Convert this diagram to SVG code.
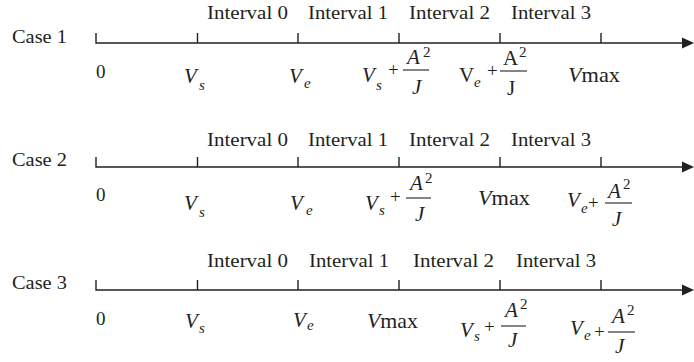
<svg xmlns="http://www.w3.org/2000/svg" width="694" height="362" viewBox="0 0 694 362">
<defs>
<style>
text{font-family:'Liberation Serif','DejaVu Serif',serif;fill:#231f20}
.t{font-size:19px}
.m{font-size:21px}
.i{font-style:italic}
.sub{font-size:15px;font-style:italic}
.sup{font-size:15px}
.ax{stroke:#231f20;stroke-width:1.4;fill:none}
.bar{stroke:#231f20;stroke-width:1.1}
.head{fill:#231f20}
</style>
</defs>
<rect width="694" height="362" fill="#ffffff"/>

<g id="connectors">
  <g id="axis1">
    <path class="ax" d="M96,33V43H686M197.5,33V43M298,33V43M399,33V43M500,33V43M601,33V43"/>
    <polygon class="head" points="682,37.5 694,43 682,48.5"/>
  </g>
  <g id="axis2">
    <path class="ax" d="M96,157V167H686M197.5,157V167M298,157V167M399,157V167M500,157V167M601,157V167"/>
    <polygon class="head" points="682,161.5 694,167 682,172.5"/>
  </g>
  <g id="axis3">
    <path class="ax" d="M96,280V290H686M197.5,280V290M298,280V290M399,280V290M500,280V290M601,280V290"/>
    <polygon class="head" points="682,284.5 694,290 682,295.5"/>
  </g>
</g>

<g id="case1">
  <text class="t" x="12" y="43" textLength="55" lengthAdjust="spacingAndGlyphs">Case 1</text>
  <text class="t" x="207" y="19" textLength="81" lengthAdjust="spacingAndGlyphs">Interval 0</text>
  <text class="t" x="308" y="19" textLength="80" lengthAdjust="spacingAndGlyphs">Interval 1</text>
  <text class="t" x="409" y="19" textLength="81" lengthAdjust="spacingAndGlyphs">Interval 2</text>
  <text class="t" x="511" y="19" textLength="80" lengthAdjust="spacingAndGlyphs">Interval 3</text>
  <text class="t" x="96" y="78">0</text>
  <text class="m i" x="184" y="83">V</text><text class="sub" x="199" y="90">s</text>
  <text class="m i" x="289" y="83">V</text><text class="sub" x="304" y="88">e</text>
  <g id="c1f1">
    <text class="m i" x="362" y="82">V</text><text class="sub" x="376" y="90">s</text>
    <text class="t" x="388" y="76">+</text>
    <line class="bar" x1="403" y1="70" x2="429" y2="70"/>
    <text class="m i" x="407" y="64">A</text><text class="sup" x="423" y="57">2</text>
    <text class="m i" x="412" y="94">J</text>
  </g>
  <g id="c1f2">
    <text class="m" x="459" y="82">V</text><text class="sub" x="474" y="87">e</text>
    <text class="t" x="487" y="77">+</text>
    <line class="bar" x1="500" y1="71" x2="527" y2="71"/>
    <text class="m" x="503" y="65">A</text><text class="sup" x="519" y="57">2</text>
    <text class="m" x="507" y="95">J</text>
  </g>
  <text class="m" x="568" y="82" textLength="52" lengthAdjust="spacingAndGlyphs"><tspan class="i">V</tspan>max</text>
</g>

<g id="case2">
  <text class="t" x="12" y="166" textLength="55" lengthAdjust="spacingAndGlyphs">Case 2</text>
  <text class="t" x="207" y="146" textLength="81" lengthAdjust="spacingAndGlyphs">Interval 0</text>
  <text class="t" x="308" y="146" textLength="80" lengthAdjust="spacingAndGlyphs">Interval 1</text>
  <text class="t" x="409" y="146" textLength="81" lengthAdjust="spacingAndGlyphs">Interval 2</text>
  <text class="t" x="511" y="146" textLength="80" lengthAdjust="spacingAndGlyphs">Interval 3</text>
  <text class="t" x="96" y="201">0</text>
  <text class="m i" x="184" y="210">V</text><text class="sub" x="199" y="217">s</text>
  <text class="m i" x="290" y="210">V</text><text class="sub" x="306" y="215">e</text>
  <g id="c2f1">
    <text class="m i" x="365" y="210">V</text><text class="sub" x="379" y="215">s</text>
    <text class="t" x="390" y="203">+</text>
    <line class="bar" x1="406" y1="198" x2="431" y2="198"/>
    <text class="m i" x="410" y="190">A</text><text class="sup" x="425" y="183">2</text>
    <text class="m i" x="415" y="221">J</text>
  </g>
  <text class="m" x="478" y="205" textLength="52" lengthAdjust="spacingAndGlyphs"><tspan class="i">V</tspan>max</text>
  <g id="c2f2">
    <text class="m i" x="567" y="207">V</text><text class="sub" x="581" y="213">e</text>
    <text class="t" x="588" y="209">+</text>
    <line class="bar" x1="605" y1="203" x2="632" y2="203"/>
    <text class="m i" x="608" y="198">A</text><text class="sup" x="623" y="189">2</text>
    <text class="m i" x="612" y="226">J</text>
  </g>
</g>

<g id="case3">
  <text class="t" x="12" y="289" textLength="55" lengthAdjust="spacingAndGlyphs">Case 3</text>
  <text class="t" x="207" y="267" textLength="81" lengthAdjust="spacingAndGlyphs">Interval 0</text>
  <text class="t" x="309" y="267" textLength="80" lengthAdjust="spacingAndGlyphs">Interval 1</text>
  <text class="t" x="413" y="267" textLength="81" lengthAdjust="spacingAndGlyphs">Interval 2</text>
  <text class="t" x="516" y="267" textLength="80" lengthAdjust="spacingAndGlyphs">Interval 3</text>
  <text class="t" x="96" y="325">0</text>
  <text class="m i" x="185" y="328">V</text><text class="sub" x="199" y="333">s</text>
  <text class="m i" x="293" y="327">V</text><text class="sub" x="307" y="330">e</text>
  <text class="m" x="367" y="328" textLength="51" lengthAdjust="spacingAndGlyphs"><tspan class="i">V</tspan>max</text>
  <g id="c3f1">
    <text class="m i" x="460" y="337">V</text><text class="sub" x="474" y="341">s</text>
    <text class="t" x="484" y="333">+</text>
    <line class="bar" x1="501" y1="326" x2="526" y2="326"/>
    <text class="m i" x="505" y="317">A</text><text class="sup" x="520" y="309">2</text>
    <text class="m i" x="508" y="347">J</text>
  </g>
  <g id="c3f2">
    <text class="m i" x="570" y="335">V</text><text class="sub" x="584" y="340">e</text>
    <text class="t" x="594" y="338">+</text>
    <line class="bar" x1="608" y1="332" x2="635" y2="332"/>
    <text class="m i" x="612" y="323">A</text><text class="sup" x="627" y="315">2</text>
    <text class="m i" x="615" y="353">J</text>
  </g>
</g>
</svg>
